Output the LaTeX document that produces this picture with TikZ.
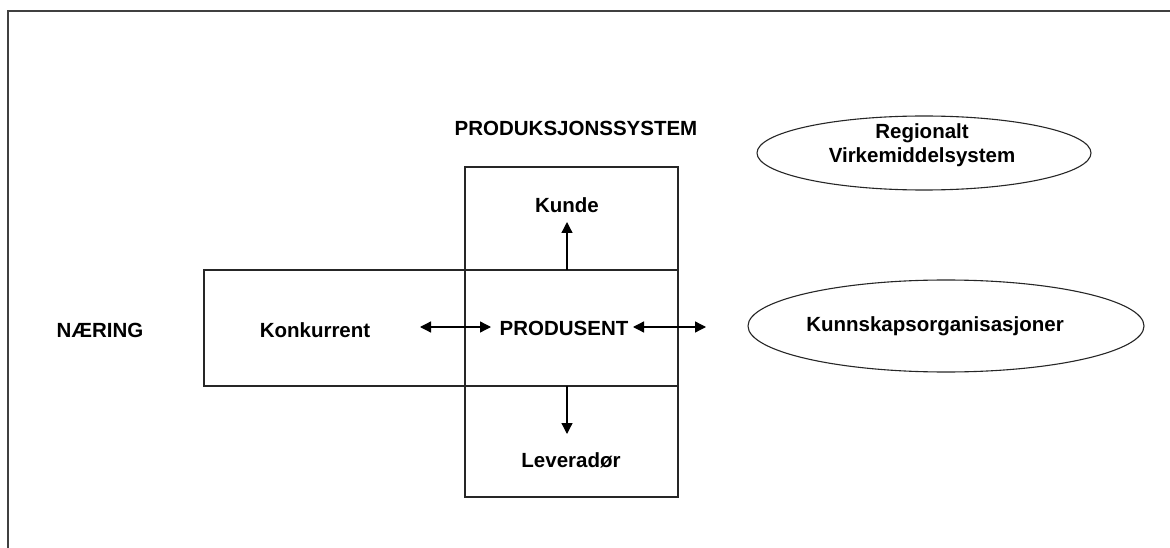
\documentclass[tikz,border=0pt]{standalone}
\usepackage{fontspec}
\setmainfont{Liberation Sans}
\usetikzlibrary{arrows.meta,shapes.geometric}
\begin{document}
\begin{tikzpicture}[x=1pt,y=-1pt,
  lbl/.style={font=\fontsize{20.5}{23.5}\selectfont\bfseries, inner sep=0pt, align=center},
  box/.style={draw=black!85, line width=1.3pt},
  oval/.style={draw=black!85, line width=1.1pt, ellipse},
  link/.style={draw=black, line width=1.3pt, -{Triangle[length=11pt,width=11pt]}},
  dlink/.style={draw=black, line width=1.3pt, {Triangle[length=11pt,width=11pt]}-{Triangle[length=11pt,width=11pt]}}]
\useasboundingbox (0,0) rectangle (1170,548);
% outer frame, open to the right and bottom
\draw[draw=black!75, line width=2.2pt] (8,548) -- (8,11) -- (1170,11);
% the two crossing boxes
\draw[box] (204,270) rectangle (678,386);
\draw[box] (465,167) rectangle (678,497);
% labels
\node[lbl] (sys) at (576,128) {PRODUKSJONSSYSTEM};
\node[lbl] (naering) at (100,330) {NÆRING};
\node[lbl] (konk) at (315,330) {Konkurrent};
\node[lbl] (prod) at (564,328) {PRODUSENT};
\node[lbl] (kunde) at (567,205) {Kunde};
\node[lbl] (lev) at (571,460) {Leveradør};
% ellipses
\node[oval, minimum width=334pt, minimum height=74pt] (reg) at (924,153) {};
\node[lbl] (regtxt) at (922,145) {Regionalt\\Virkemiddelsystem};
\node[oval, minimum width=396pt, minimum height=92pt] (kunn) at (946,326) {};
\node[lbl] (kunntxt) at (935,326) {Kunnskapsorganisasjoner};
% connector end points
\coordinate (ktop) at (567,270);
\coordinate (ktip) at (567,222);
\coordinate (lbot) at (567,386);
\coordinate (ltip) at (567,434);
\coordinate (cl) at (420,327);
\coordinate (cr) at (491,327);
\coordinate (pl) at (633,327);
\coordinate (pr) at (706,327);
% connectors
\draw[link] (ktop) -- (ktip);
\draw[link] (lbot) -- (ltip);
\draw[dlink] (cl) -- (cr);
\draw[dlink] (pl) -- (pr);
\end{tikzpicture}
\end{document}
